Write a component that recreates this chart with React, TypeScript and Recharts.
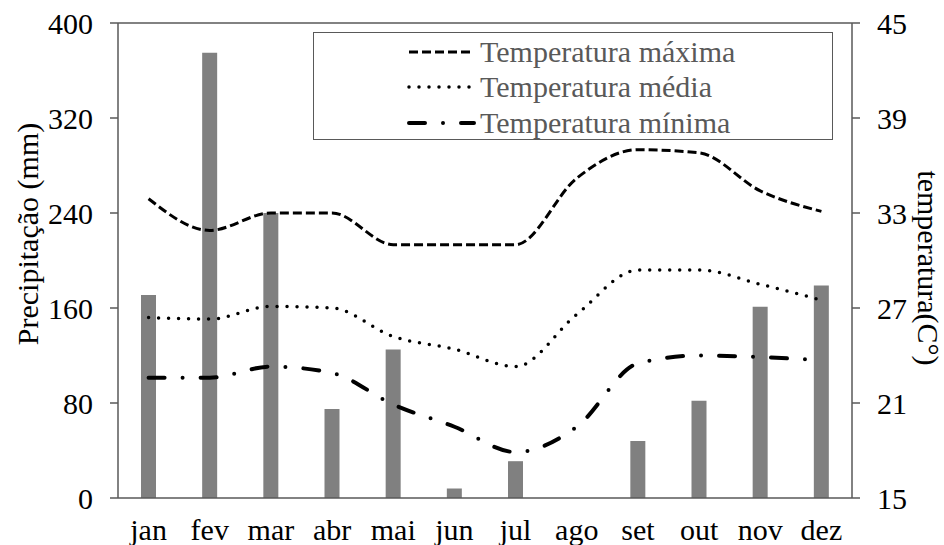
import { ComposedChart, Bar, Line, XAxis, YAxis, Legend, ReferenceLine } from "recharts";

const months = ["jan", "fev", "mar", "abr", "mai", "jun", "jul", "ago", "set", "out", "nov", "dez"];
const precipitation = [171, 375, 240, 75, 125, 8, 31, 0, 48, 82, 161, 179];
const tempMax = [33.9, 31.9, 33.0, 33.0, 31.0, 31.0, 31.0, 35.2, 37.0, 36.8, 34.4, 33.1];
const tempMean = [26.4, 26.3, 27.1, 27.0, 25.2, 24.4, 23.3, 26.6, 29.4, 29.4, 28.5, 27.5];
const tempMin = [22.6, 22.6, 23.3, 22.9, 20.9, 19.5, 17.9, 19.5, 23.5, 24.0, 23.9, 23.7];

const leftTicks = [0, 80, 160, 240, 320, 400];
const rightTicks = [15, 21, 27, 33, 39, 45];

const data = months.map((m, i) => ({
  month: m,
  prec: precipitation[i],
  max: tempMax[i],
  mean: tempMean[i],
  min: tempMin[i],
}));

const FONT = "'Liberation Serif', 'Times New Roman', serif";
const AXIS = "#595959";
const FS = 30;

const seriesStyles = [
  { key: "max", name: "Temperatura máxima", dash: "9 4", width: 3, cap: "butt" as const },
  { key: "mean", name: "Temperatura média", dash: "0 10", width: 3.5, cap: "round" as const },
  { key: "min", name: "Temperatura mínima", dash: "16 18 0 18", width: 4, cap: "round" as const },
];

function XTick(props: any) {
  const { x, y, payload } = props;
  return (
    <text x={x} y={y} dy="0.71em" textAnchor="middle" fill="#000" style={{ fontFamily: FONT, fontSize: FS }}>
      {payload.value}
    </text>
  );
}

function YTick(props: any) {
  const { x, y, payload, textAnchor } = props;
  return (
    <text x={x} y={y} dy="0.355em" textAnchor={textAnchor} fill="#000" style={{ fontFamily: FONT, fontSize: FS }}>
      {payload.value}
    </text>
  );
}

function LegendBox() {
  return (
    <div
      style={{
        width: "100%",
        height: "100%",
        boxSizing: "border-box",
        border: `1.5px solid ${AXIS}`,
        background: "white",
        paddingTop: 1,
      }}
    >
      {seriesStyles.map((s) => (
        <div key={s.key} style={{ display: "flex", alignItems: "center", height: 35.5 }}>
          <svg width={166} height={20} style={{ flex: "none" }}>
            <line
              x1={95}
              x2={160}
              y1={10}
              y2={10}
              stroke="#000"
              strokeWidth={s.width}
              strokeDasharray={s.dash}
              strokeLinecap={s.cap}
            />
          </svg>
          <span style={{ fontFamily: FONT, fontSize: FS, color: "#595959", lineHeight: "30px" }}>{s.name}</span>
        </div>
      ))}
    </div>
  );
}

export default function App() {
  return (
    <div style={{ position: "absolute", left: 0, top: 0, background: "white" }}>
      <ComposedChart width={944} height={545} data={data} margin={{ top: 23, right: 0, bottom: 0, left: 0 }}>
        <XAxis
          dataKey="month"
          height={47}
          tickLine={false}
          tickSize={0}
          tickMargin={21}
          tick={<XTick />}
          axisLine={{ stroke: AXIS, strokeWidth: 1.5 }}
          interval={0}
        />
        <YAxis
          yAxisId="left"
          width={118}
          domain={[0, 400]}
          ticks={leftTicks}
          tickSize={8}
          tickMargin={17}
          tick={<YTick />}
          tickLine={{ stroke: AXIS, strokeWidth: 1.5 }}
          axisLine={{ stroke: AXIS, strokeWidth: 1.5 }}
          label={{
            content: () => (
              <text x={27} y={234} transform="rotate(-90 27 234)" textAnchor="middle" dominantBaseline="central" style={{ fontFamily: FONT, fontSize: FS }} fill="#000">
                Precipitação (mm)
              </text>
            ),
          }}
        />
        <YAxis
          yAxisId="right"
          orientation="right"
          width={92}
          domain={[15, 45]}
          ticks={rightTicks}
          tickSize={8}
          tickMargin={17}
          tick={<YTick />}
          tickLine={{ stroke: AXIS, strokeWidth: 1.5 }}
          axisLine={{ stroke: AXIS, strokeWidth: 1.5 }}
          label={{
            content: () => (
              <text x={928} y={268} transform="rotate(90 928 268)" textAnchor="middle" dominantBaseline="central" style={{ fontFamily: FONT, fontSize: FS }} fill="#000">
                temperatura(C°)
              </text>
            ),
          }}
        />
        <ReferenceLine yAxisId="left" y={400} stroke={AXIS} strokeWidth={1.5} />
        <Bar yAxisId="left" dataKey="prec" fill="#808080" barSize={15} isAnimationActive={false} />
        {seriesStyles.map((s) => (
          <Line
            key={s.key}
            yAxisId="right"
            type="monotone"
            dataKey={s.key}
            name={s.name}
            stroke="#000"
            strokeWidth={s.width}
            strokeDasharray={s.dash}
            strokeLinecap={s.cap}
            dot={false}
            activeDot={false}
            isAnimationActive={false}
          />
        ))}
        <Legend
          layout="horizontal"
          verticalAlign="middle"
          align="center"
          content={() => <LegendBox />}
          wrapperStyle={{ left: 313, top: 32, width: 520, height: 108 }}
        />
      </ComposedChart>
    </div>
  );
}
